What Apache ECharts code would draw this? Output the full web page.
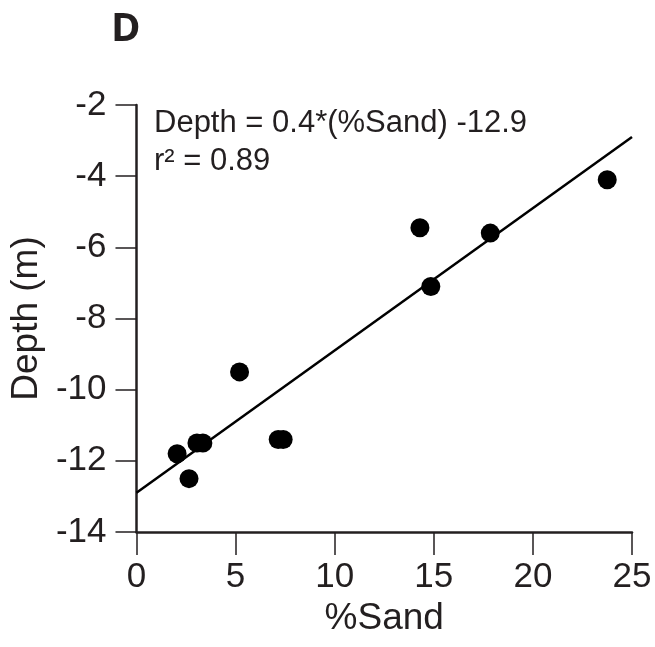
<!DOCTYPE html>
<html>
<head>
<meta charset="utf-8">
<script src="https://cdn.jsdelivr.net/npm/echarts@6/dist/echarts.min.js"></script>
<style>
  html, body { margin: 0; padding: 0; background: #fff; }
  #chart { width: 655px; height: 647px; }
</style>
</head>
<body>
<div id="chart"></div>
<script>
// %Sand vs depth (m)
const sandPct = [2.05, 2.65, 3.05, 3.35, 5.2, 7.15, 7.4, 14.3, 14.85, 17.85, 23.75];
const depthM = [-11.8, -12.5, -11.5, -11.5, -9.5, -11.4, -11.4, -5.45, -7.1, -5.6, -4.1];

// fitted line: Depth = 0.4*(%Sand) - 12.9
const fitX = [0, 25];
const fitY = [-12.9, -2.9];

const xTicks = [0, 5, 10, 15, 20, 25];
const yTicks = [-14, -12, -10, -8, -6, -4, -2];

const panelLabel = 'D';
const equationText = 'Depth = 0.4*(%Sand) -12.9';
const r2Text = 'r² = 0.89';

const ink = '#231f20';
const font = 'Liberation Sans, Arial, Helvetica, sans-serif';

let chart = echarts.init(document.getElementById('chart'), null, { renderer: 'canvas' });

let axisCommon = {
    axisLine: { show: true, onZero: false, lineStyle: { color: ink, width: 2.5 } },
    splitLine: { show: false },
    nameTextStyle: { color: ink, fontSize: 37, fontFamily: font },
    nameLocation: 'middle'
};

let option = {
    animation: false,
    backgroundColor: '#fff',
    grid: {
        left: 133,
        right: 23,
        top: 105,
        bottom: 115,
        containLabel: false
    },
    xAxis: Object.assign({}, axisCommon, {
        type: 'value',
        min: xTicks[0],
        max: xTicks[xTicks.length - 1],
        interval: 5,
        name: '%Sand',
        nameGap: 60,
        axisTick: { show: true, length: 23, lineStyle: { color: ink, width: 1.5 } },
        axisLabel: { color: ink, fontSize: 35, fontFamily: font, margin: 28 }
    }),
    yAxis: Object.assign({}, axisCommon, {
        type: 'value',
        min: yTicks[0],
        max: yTicks[yTicks.length - 1],
        interval: 2,
        name: 'Depth (m)',
        nameGap: 76,
        nameRotate: 90,
        axisTick: { show: true, length: 21, lineStyle: { color: ink, width: 1.5 } },
        axisLabel: { color: ink, fontSize: 35, fontFamily: font, margin: 30 }
    }),
    graphic: [
        {
            type: 'text',
            left: 111,
            top: 10,
            style: {
                text: panelLabel,
                fill: ink,
                font: 'bold 40px "Open Sans", sans-serif'
            }
        },
        {
            type: 'text',
            left: 154,
            top: 108,
            style: {
                text: equationText,
                fill: ink,
                font: '31px ' + font
            }
        },
        {
            type: 'text',
            left: 154,
            top: 146,
            style: {
                text: r2Text,
                fill: ink,
                font: '31px ' + font
            }
        }
    ],
    series: [
        {
            name: 'fit',
            type: 'line',
            data: fitX.map((x, i) => [x, fitY[i]]),
            symbol: 'none',
            lineStyle: { color: '#000', width: 2.5 },
            z: 2
        },
        {
            name: 'samples',
            type: 'scatter',
            data: sandPct.map((x, i) => [x, depthM[i]]),
            symbol: 'circle',
            symbolSize: 19,
            itemStyle: { color: '#000', opacity: 1 },
            z: 3
        }
    ]
};

chart.setOption(option);
</script>
</body>
</html>
